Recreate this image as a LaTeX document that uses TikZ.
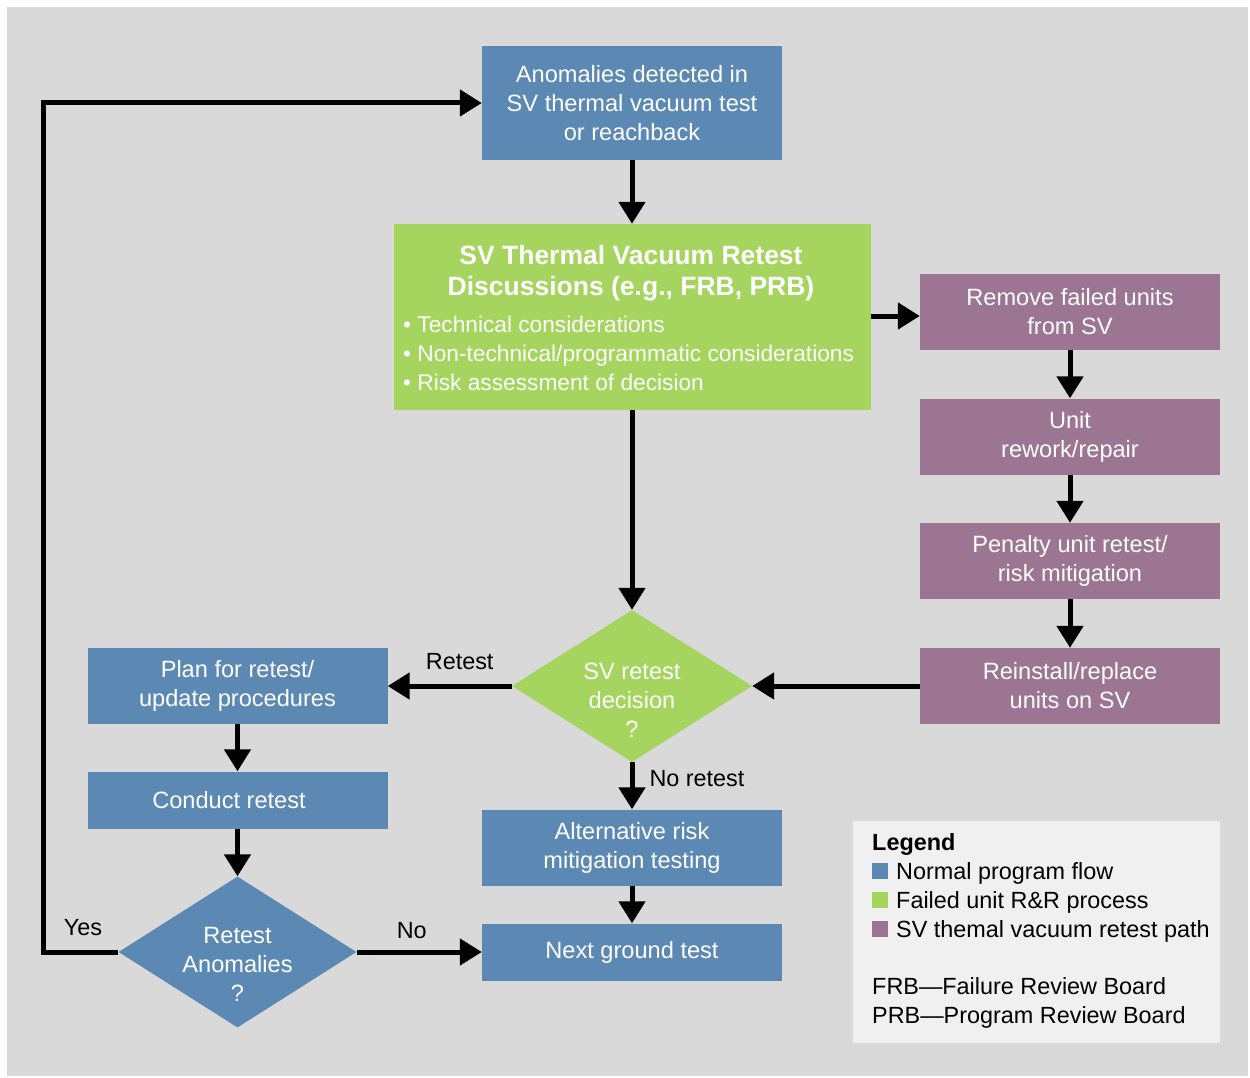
\documentclass[tikz,border=0pt]{standalone}
\usepackage{fontspec}
\setmainfont{Liberation Sans}
\usetikzlibrary{arrows.meta,shapes.geometric,calc}
\definecolor{bg}{HTML}{D9D9D9}
\definecolor{nblue}{HTML}{5B89B4}
\definecolor{ngreen}{HTML}{A5D55E}
\definecolor{npurple}{HTML}{9B7591}
\definecolor{legbg}{HTML}{F0F0F0}
\begin{document}
\begin{tikzpicture}[x=1pt,y=-1pt,
 box/.style={inner sep=0pt, text=white, align=center, font=\fontsize{23.6}{29}\selectfont},
 bbox/.style={box, fill=nblue, minimum width=300pt},
 pbox/.style={box, fill=npurple, minimum width=300pt, minimum height=76pt},
 dia/.style={diamond, inner sep=0pt},
 conn/.style={line width=5pt, line join=miter, -{Triangle[length=22pt,width=26pt]}},
 lbl/.style={font=\fontsize{23.4}{28}\selectfont, text=black, inner sep=0pt},
 legsq/.style={fill=#1, minimum width=16pt, minimum height=16pt, inner sep=0pt, anchor=north west},
]
\useasboundingbox (0,0) rectangle (1250,1078);
\fill[bg] (7,7) rectangle (1248,1076);

% central column
\node[bbox, minimum height=114pt] (anom) at (632,103) {Anomalies detected in\\SV thermal vacuum test\\or reachback};
\node[fill=ngreen, minimum width=477pt, minimum height=186pt, inner sep=0pt] (disc) at (632,317) {};
\node[box, font=\bfseries\fontsize{26.5}{31.5}\selectfont] (disct) at (631,273) {SV Thermal Vacuum Retest\\Discussions (e.g., FRB, PRB)};
\node[box, align=left, anchor=west, font=\fontsize{22.7}{28.7}\selectfont] (discb) at (403,353.5) {• Technical considerations\\• Non-technical/programmatic considerations\\• Risk assessment of decision};

\node[dia, fill=ngreen, minimum width=240pt, minimum height=152pt] (dec) at (632,686) {};
\node[box] (dect) at (632,700) {SV retest\\decision\\?};

\node[bbox, minimum height=76pt] (alt) at (632,847.5) {Alternative risk\\mitigation testing};
\node[bbox, minimum height=57pt] (next) at (632,952) {Next ground test};

% purple column
\node[pbox] (remove) at (1070,312) {Remove failed units\\from SV};
\node[pbox] (rework) at (1070,436.5) {Unit\\rework/repair};
\node[pbox] (penalty) at (1070,561) {Penalty unit retest/\\risk mitigation};
\node[pbox] (reinst) at (1070,686) {Reinstall/replace\\units on SV};

% left column
\node[bbox, minimum height=76pt] (plan) at (237.5,686) {Plan for retest/\\update procedures};
\node[bbox, minimum height=57pt] (conduct) at (237.5,800) {\hspace*{-17pt}Conduct retest};
\node[dia, fill=nblue, minimum width=238pt, minimum height=151pt] (ra) at (237.5,952) {};
\node[box] (rat) at (237.5,964) {Retest\\Anomalies\\?};

\coordinate (yc) at (43,952);
\coordinate (yt) at (43,103);

% connectors
\draw[conn] (anom) -- (disc);
\draw[conn] ($(disc.east |- remove.west)+(0,4)$) -- ($(remove.west)+(0,4)$);
\draw[conn] (remove) -- (rework);
\draw[conn] (rework) -- (penalty);
\draw[conn] (penalty) -- (reinst);
\draw[conn] (reinst) -- (dec);
\draw[conn] (disc) -- (dec);
\draw[conn] (dec) -- node[lbl, pos=0.42, above=14pt] {Retest} (plan);
\draw[conn] (dec) -- node[lbl, pos=0.35, right=15pt] {No retest} (alt);
\draw[conn] (alt) -- (next);
\draw[conn] (plan) -- (conduct);
\draw[conn] (conduct) -- (ra);
\draw[conn] (ra) -- node[lbl, pos=0.44, above=11pt] {No} (next);
\draw[conn] (ra.west) -- node[lbl, pos=0.47, above=14pt] {Yes} (yc) -- (yt) -- (anom.west);

% legend
\node[fill=legbg, minimum width=367pt, minimum height=222pt, inner sep=0pt] (legend) at (1036.5,932) {};
\node[lbl, anchor=base west, font=\bfseries\fontsize{23.4}{28}\selectfont] (legt) at (872,850) {Legend};
\node[legsq=nblue] (sq1) at (872,863) {};
\node[legsq=ngreen] (sq2) at (872,892) {};
\node[legsq=npurple] (sq3) at (872,921) {};
\node[lbl, anchor=base west] (l1) at (896,879) {Normal program flow};
\node[lbl, anchor=base west] (l2) at (896,908) {Failed unit R\&R process};
\node[lbl, anchor=base west] (l3) at (896,937) {SV themal vacuum retest path};
\node[lbl, anchor=base west] (l4) at (872,994) {FRB—Failure Review Board};
\node[lbl, anchor=base west] (l5) at (872,1023) {PRB—Program Review Board};
\end{tikzpicture}
\end{document}
